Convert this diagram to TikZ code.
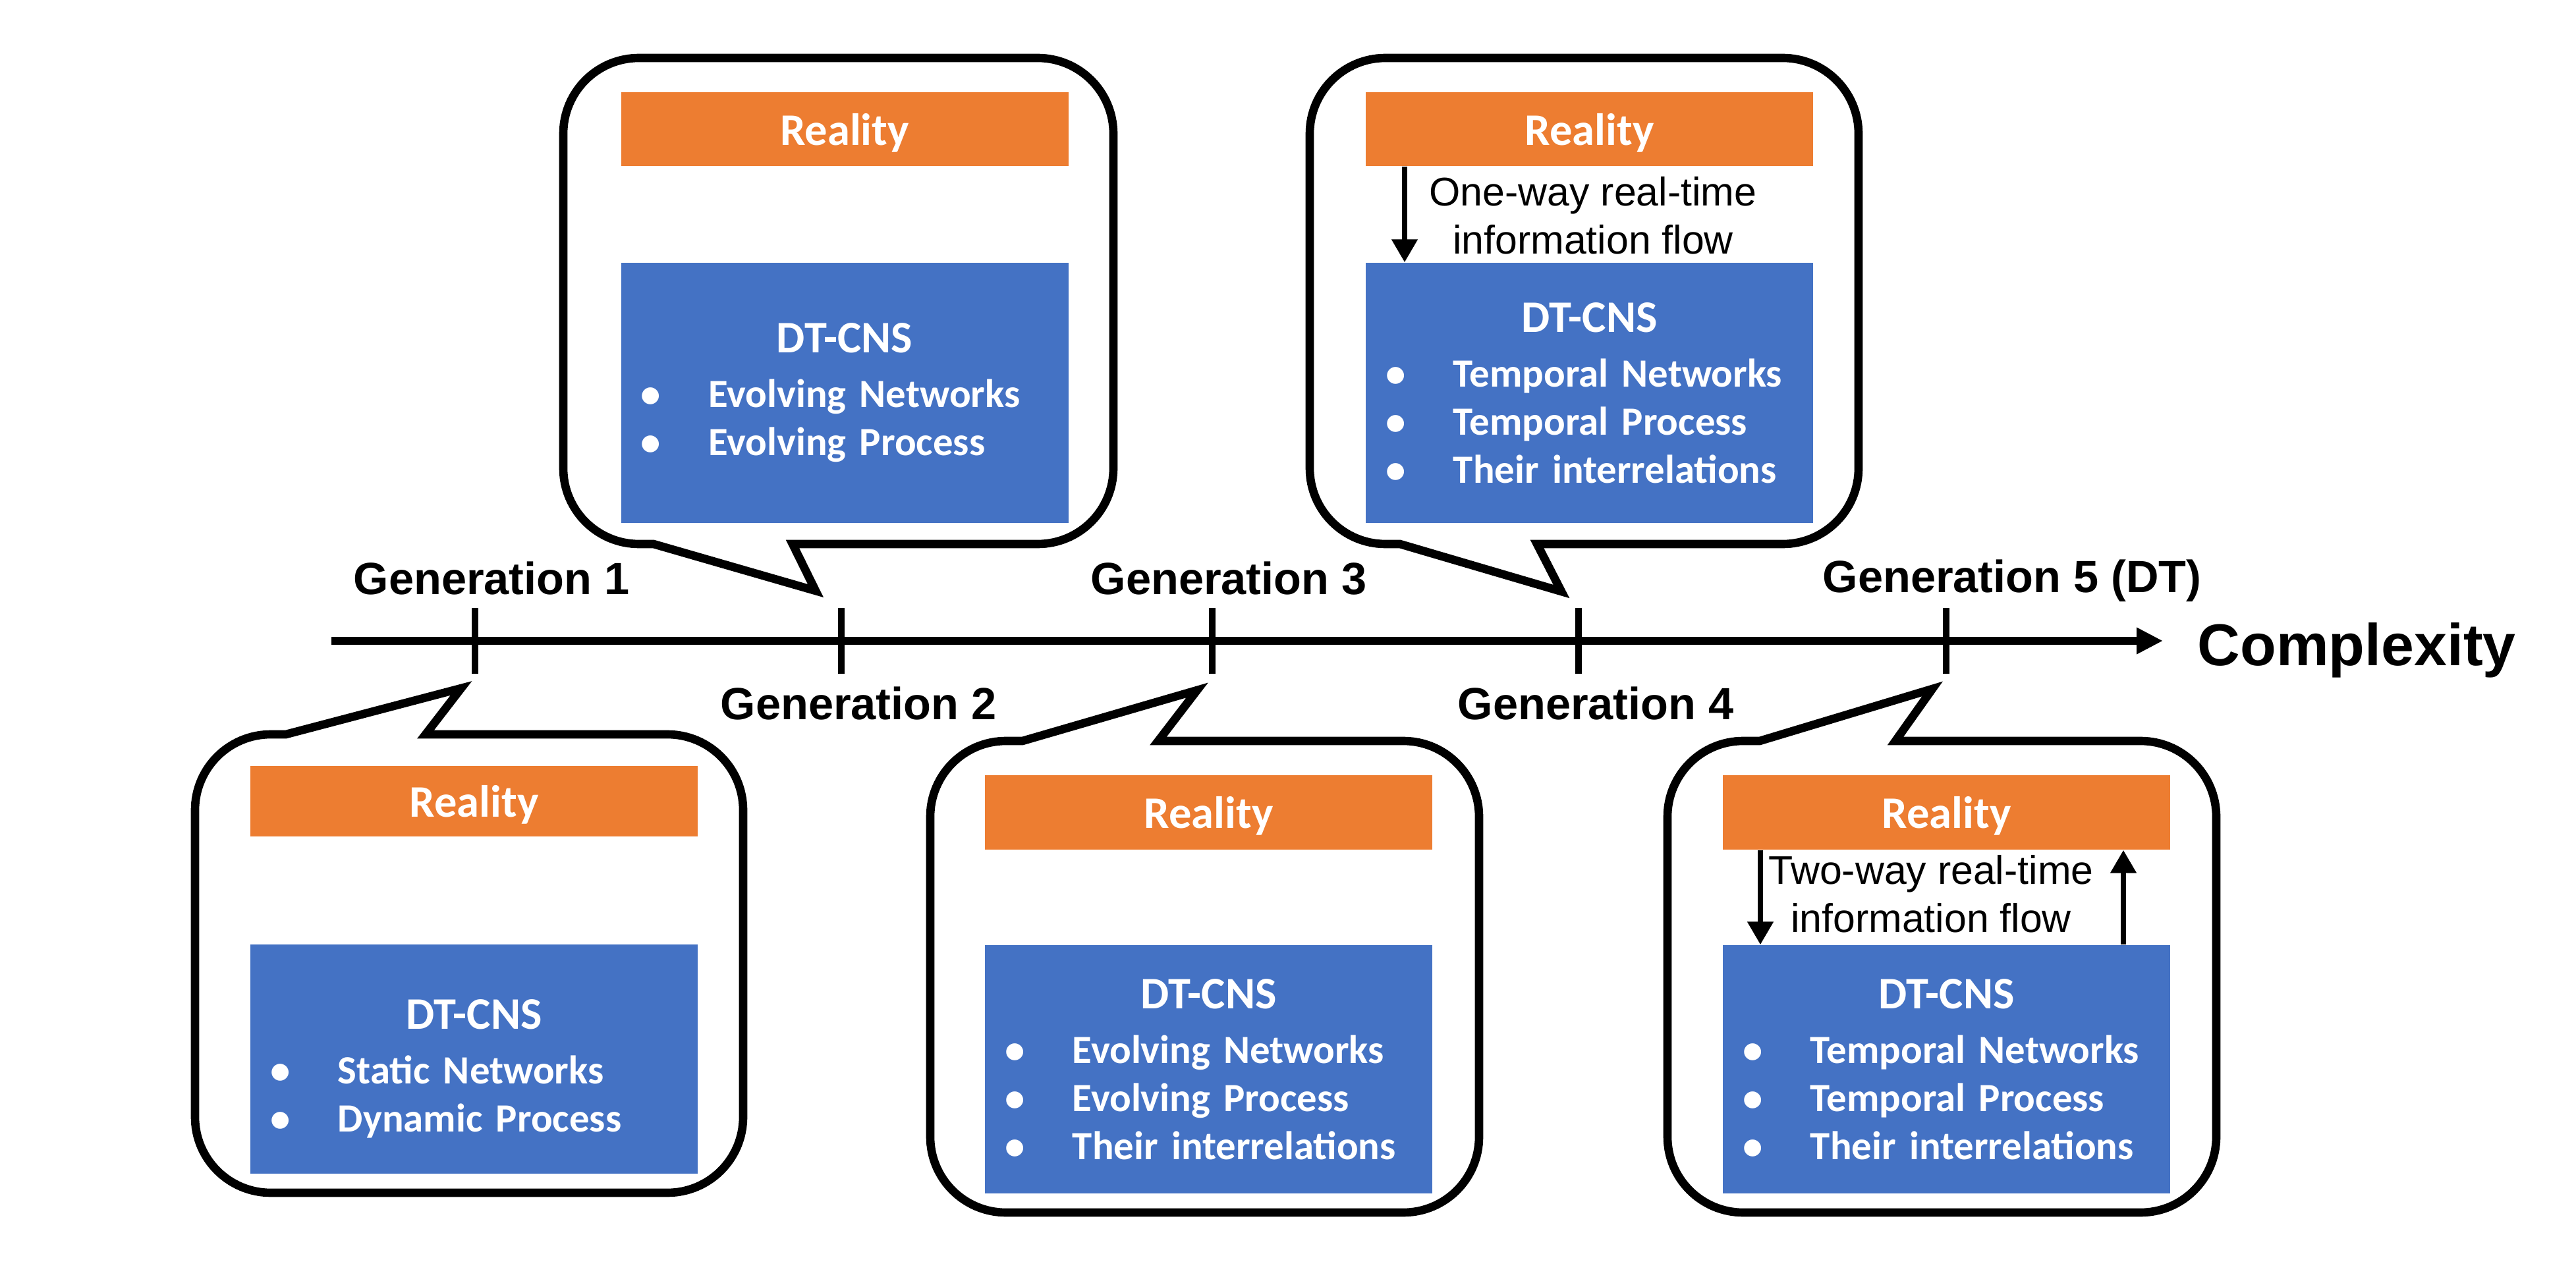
\documentclass[tikz,border=0pt]{standalone}
\usepackage{fontspec}
\setmainfont{Liberation Sans}
\newfontfamily\calibri{Carlito}
\usetikzlibrary{arrows.meta}

\definecolor{realorange}{RGB}{237,125,49}
\definecolor{dtblue}{RGB}{68,114,196}

\newcommand{\dttitle}{\makebox[6.79cm][c]{\fontsize{19.5}{23}\selectfont DT-CNS}}
\newcommand{\dtitem}[1]{\hspace*{0.30cm}\makebox[1.03cm][l]{\textbullet}#1}

\tikzset{
  callout/.style = {line width=3.6pt, line join=miter},
  genmark/.style = {line width=3pt},
  genlabel/.style = {inner sep=0, font=\bfseries\fontsize{19.5}{23}\selectfont},
  reality/.style = {fill=realorange, text=white, minimum width=6.79cm, inner sep=0,
    text depth=0pt, font=\calibri\bfseries\fontsize{19.5}{23}\selectfont},
  dtcns/.style = {fill=dtblue, text=white, minimum width=6.79cm, text width=6.79cm,
    inner sep=0, align=left, font=\calibri\bfseries\fontsize{17.3}{20.8}\selectfont},
  flowtext/.style = {inner sep=0, align=center, font=\fontsize{17.3}{20.8}\selectfont},
  flow/.style = {->, >={Triangle[length=0.35cm,width=0.38cm]}, line width=2.3pt}
}

\begin{document}
\begin{tikzpicture}
%\draw[help lines] (0,0) grid (39,19);
\useasboundingbox (0,0) rectangle (39.10,19.47);

% axis
\draw[->,>={Triangle[length=0.40cm,width=0.38cm]},line width=3.6pt] (5.03,9.74) -- (32.83,9.74);
\node[inner sep=0, anchor = base west, font=\bfseries\fontsize{25.5}{30}\selectfont] (cx) at (33.35,9.37) {Complexity};

\draw[genmark] (7.21,9.24) -- (7.21,10.24);
\draw[genmark] (12.77,9.24) -- (12.77,10.24);
\draw[genmark] (18.40,9.24) -- (18.40,10.24);
\draw[genmark] (23.96,9.24) -- (23.96,10.24);
\draw[genmark] (29.54,9.24) -- (29.54,10.24);

\node[genlabel, anchor = base west] (g1) at (5.36,10.44) {Generation 1};
\node[genlabel, anchor = base west] (g2) at (10.93,8.55) {Generation 2};
\node[genlabel, anchor = base west] (g3) at (16.55,10.44) {Generation 3};
\node[genlabel, anchor = base west] (g4) at (22.12,8.55) {Generation 4};
\node[genlabel, anchor = base west] (g5) at (27.66,10.48) {Generation 5 (DT)};

% generation 1
\draw[callout] (6.46,8.32) -- (10.13,8.32) arc[start angle=90,end angle=0,radius=1.15] -- (11.28,2.51) arc[start angle=0,end angle=-90,radius=1.15] -- (4.11,1.36) arc[start angle=270,end angle=180,radius=1.15] -- (2.96,7.17) arc[start angle=180,end angle=90,radius=1.15] -- (4.34,8.32) -- (7.00,9.02) -- cycle;
\node[reality, minimum height=1.07cm] (r1) at (7.195,7.305) {Reality};
\node[dtcns, minimum height=3.48cm] (d1) at (7.195,3.39) {\rule{0pt}{0.75cm}\dttitle\\[0.1cm] \dtitem{Static Networks}\\ \dtitem{Dynamic Process}};

% generation 2
\draw[callout] (9.92,11.21) -- (9.70,11.21) arc[start angle=270,end angle=180,radius=1.15] -- (8.55,17.44) arc[start angle=180,end angle=90,radius=1.15] -- (15.75,18.59) arc[start angle=90,end angle=0,radius=1.15] -- (16.90,12.36) arc[start angle=0,end angle=-90,radius=1.15] -- (12.03,11.21) -- (12.38,10.50) -- cycle;
\node[reality, minimum height=1.12cm] (r2) at (12.82,17.51) {Reality};
\node[dtcns, minimum height=3.95cm] (d2) at (12.82,13.505) {\dttitle\\[0.1cm] \dtitem{Evolving Networks}\\ \dtitem{Evolving Process}};

% generation 3
\draw[callout] (17.58,8.22) -- (21.30,8.22) arc[start angle=90,end angle=0,radius=1.15] -- (22.45,2.21) arc[start angle=0,end angle=-90,radius=1.15] -- (15.27,1.06) arc[start angle=270,end angle=180,radius=1.15] -- (14.12,7.07) arc[start angle=180,end angle=90,radius=1.15] -- (15.52,8.22) -- (18.17,8.99) -- cycle;
\node[reality, minimum height=1.13cm] (r3) at (18.345,7.135) {Reality};
\node[dtcns, minimum height=3.77cm] (d3) at (18.345,3.235) {\dttitle\\[0.1cm] \dtitem{Evolving Networks}\\ \dtitem{Evolving Process}\\ \dtitem{Their interrelations}};

% generation 4
\draw[callout] (21.25,11.21) -- (21.03,11.21) arc[start angle=270,end angle=180,radius=1.15] -- (19.88,17.44) arc[start angle=180,end angle=90,radius=1.15] -- (27.06,18.59) arc[start angle=90,end angle=0,radius=1.15] -- (28.21,12.36) arc[start angle=0,end angle=-90,radius=1.15] -- (23.33,11.21) -- (23.70,10.49) -- cycle;
\node[reality, minimum height=1.12cm] (r4) at (24.125,17.51) {Reality};
\node[dtcns, minimum height=3.95cm] (d4) at (24.125,13.505) {\dttitle\\[0.1cm] \dtitem{Temporal Networks}\\ \dtitem{Temporal Process}\\ \dtitem{Their interrelations}};
\draw[flow] ([xshift=-2.805cm]r4.south) -- ([xshift=-2.805cm]d4.north);
\node[flowtext] (f4) at (24.18,16.20) {One-way real-time\\information flow};

% generation 5
\draw[callout] (28.77,8.22) -- (32.49,8.22) arc[start angle=90,end angle=0,radius=1.15] -- (33.64,2.21) arc[start angle=0,end angle=-90,radius=1.15] -- (26.46,1.06) arc[start angle=270,end angle=180,radius=1.15] -- (25.31,7.07) arc[start angle=180,end angle=90,radius=1.15] -- (26.71,8.22) -- (29.33,9.01) -- cycle;
\node[reality, minimum height=1.13cm] (r5) at (29.545,7.135) {Reality};
\node[dtcns, minimum height=3.77cm] (d5) at (29.545,3.235) {\dttitle\\[0.1cm] \dtitem{Temporal Networks}\\ \dtitem{Temporal Process}\\ \dtitem{Their interrelations}};
\draw[flow] ([xshift=-2.825cm]r5.south) -- ([xshift=-2.825cm]d5.north);
\draw[flow] ([xshift=2.685cm]d5.north) -- ([xshift=2.685cm]r5.south);
\node[flowtext] (f5) at (29.31,5.895) {Two-way real-time\\information flow};
\end{tikzpicture}
\end{document}
